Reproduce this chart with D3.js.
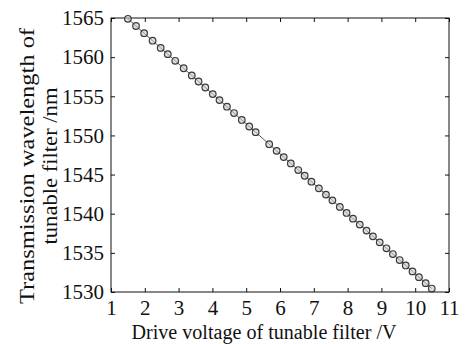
<!DOCTYPE html>
<html>
<head>
<meta charset="utf-8">
<script src="https://cdn.jsdelivr.net/npm/d3@7"></script>
<style>
  body { margin: 0; background: #fff; }
  svg text { fill: #111; }
</style>
</head>
<body>
<div class="chart"></div>
<script>
// Chart size and plot box margins
const WIDTH = 474;
const HEIGHT = 344;
const MARGIN = { top: 18, right: 25, bottom: 52, left: 111 };
const FONT = "'Liberation Serif', 'Times New Roman', serif";

// Drive voltage (V) of each measured point
const voltage = [
  1.50, 1.74, 1.98, 2.23, 2.47, 2.68, 2.90, 3.15, 3.39, 3.59,
  3.79, 4.01, 4.21, 4.43, 4.64, 4.87, 5.09, 5.28, 5.68, 5.90,
  6.11, 6.32, 6.54, 6.73, 6.93, 7.15, 7.36, 7.55, 7.77, 7.97,
  8.16, 8.36, 8.56, 8.75, 8.95, 9.15, 9.34, 9.54, 9.72, 9.92,
  10.11, 10.31, 10.49
];

// Transmission wavelength (nm) at each voltage
const wavelength = [
  1564.90, 1563.98, 1563.06, 1562.10, 1561.18, 1560.38, 1559.53, 1558.58, 1557.66, 1556.89,
  1556.12, 1555.28, 1554.51, 1553.67, 1552.86, 1551.98, 1551.14, 1550.41, 1548.88, 1548.03,
  1547.23, 1546.42, 1545.58, 1544.85, 1544.09, 1543.24, 1542.44, 1541.71, 1540.87, 1540.10,
  1539.37, 1538.61, 1537.84, 1537.11, 1536.34, 1535.58, 1534.85, 1534.08, 1533.39, 1532.63,
  1531.90, 1531.13, 1530.44
];

// Tick values
const xTicks = [1, 2, 3, 4, 5, 6, 7, 8, 9, 10, 11];
const yTicks = [1530, 1535, 1540, 1545, 1550, 1555, 1560, 1565];

const data = voltage.map((v, i) => ({ v: v, w: wavelength[i] }));

const innerW = WIDTH - MARGIN.left - MARGIN.right;
const innerH = HEIGHT - MARGIN.top - MARGIN.bottom;

var x = d3.scaleLinear().domain([1, 11]).range([0, innerW]);
var y = d3.scaleLinear().domain([1530, 1565]).range([innerH, 0]);

var svg = d3
  .select(".chart")
  .append("svg")
  .attr("width", WIDTH)
  .attr("height", HEIGHT)
  .append("g")
  .attr("transform", "translate(" + MARGIN.left + "," + MARGIN.top + ")");

// Axes with inward ticks on all four sides
const TICK = 4;
svg.append("g")
  .attr("transform", `translate(0,${innerH})`)
  .call(d3.axisBottom(x).tickValues(xTicks).tickSize(-TICK).tickPadding(8).tickFormat(d3.format("d")))
  .attr("font-family", FONT)
  .attr("font-size", 21)
  .call((g) => g.select(".domain").remove());

svg.append("g")
  .call(d3.axisTop(x).tickValues(xTicks).tickSize(-TICK).tickFormat(""))
  .call((g) => g.select(".domain").remove());

svg.append("g")
  .call(d3.axisLeft(y).tickValues(yTicks).tickSize(-TICK).tickPadding(7).tickFormat(d3.format("d")))
  .attr("font-family", FONT)
  .attr("font-size", 21)
  .call((g) => g.select(".domain").remove());

svg.append("g")
  .attr("transform", `translate(${innerW},0)`)
  .call(d3.axisRight(y).tickValues(yTicks).tickSize(-TICK).tickFormat(""))
  .call((g) => g.select(".domain").remove());

svg.selectAll(".tick line").attr("stroke", "#111");

// Plot frame
svg.append("rect")
  .attr("width", innerW)
  .attr("height", innerH)
  .attr("fill", "none")
  .attr("stroke", "#111")
  .attr("stroke-width", 1);

// Data line and markers
var lineValue = d3.line()
  .x((d) => x(d.v))
  .y((d) => y(d.w));

svg.append("path")
  .datum(data)
  .attr("d", lineValue)
  .attr("fill", "none")
  .attr("stroke", "#555")
  .attr("stroke-width", 1);

svg.selectAll(".pt")
  .data(data)
  .enter()
  .append("circle")
  .attr("class", "pt")
  .attr("cx", (d) => x(d.v))
  .attr("cy", (d) => y(d.w))
  .attr("r", 3.3)
  .attr("fill", "#c8c8c8")
  .attr("fill-opacity", 0.6)
  .attr("stroke", "#3a3a3a")
  .attr("stroke-width", 1.2);

// Axis titles
var titles = svg.append("g").attr("font-family", FONT).attr("font-size", 20);

titles.append("text")
  .attr("x", 264 - MARGIN.left)
  .attr("y", innerH + 47)
  .attr("text-anchor", "middle")
  .attr("textLength", 265)
  .attr("lengthAdjust", "spacingAndGlyphs")
  .text("Drive voltage of tunable filter /V");

titles.append("text")
  .attr("transform", `translate(${34 - MARGIN.left},${166 - MARGIN.top}) rotate(-90)`)
  .attr("text-anchor", "middle")
  .attr("font-size", 21)
  .attr("textLength", 276)
  .attr("lengthAdjust", "spacingAndGlyphs")
  .text("Transmission wavelength of");

titles.append("text")
  .attr("transform", `translate(${57 - MARGIN.left},${166 - MARGIN.top}) rotate(-90)`)
  .attr("text-anchor", "middle")
  .attr("font-size", 21)
  .attr("textLength", 157)
  .attr("lengthAdjust", "spacingAndGlyphs")
  .text("tunable filter /nm");
</script>
</body>
</html>
